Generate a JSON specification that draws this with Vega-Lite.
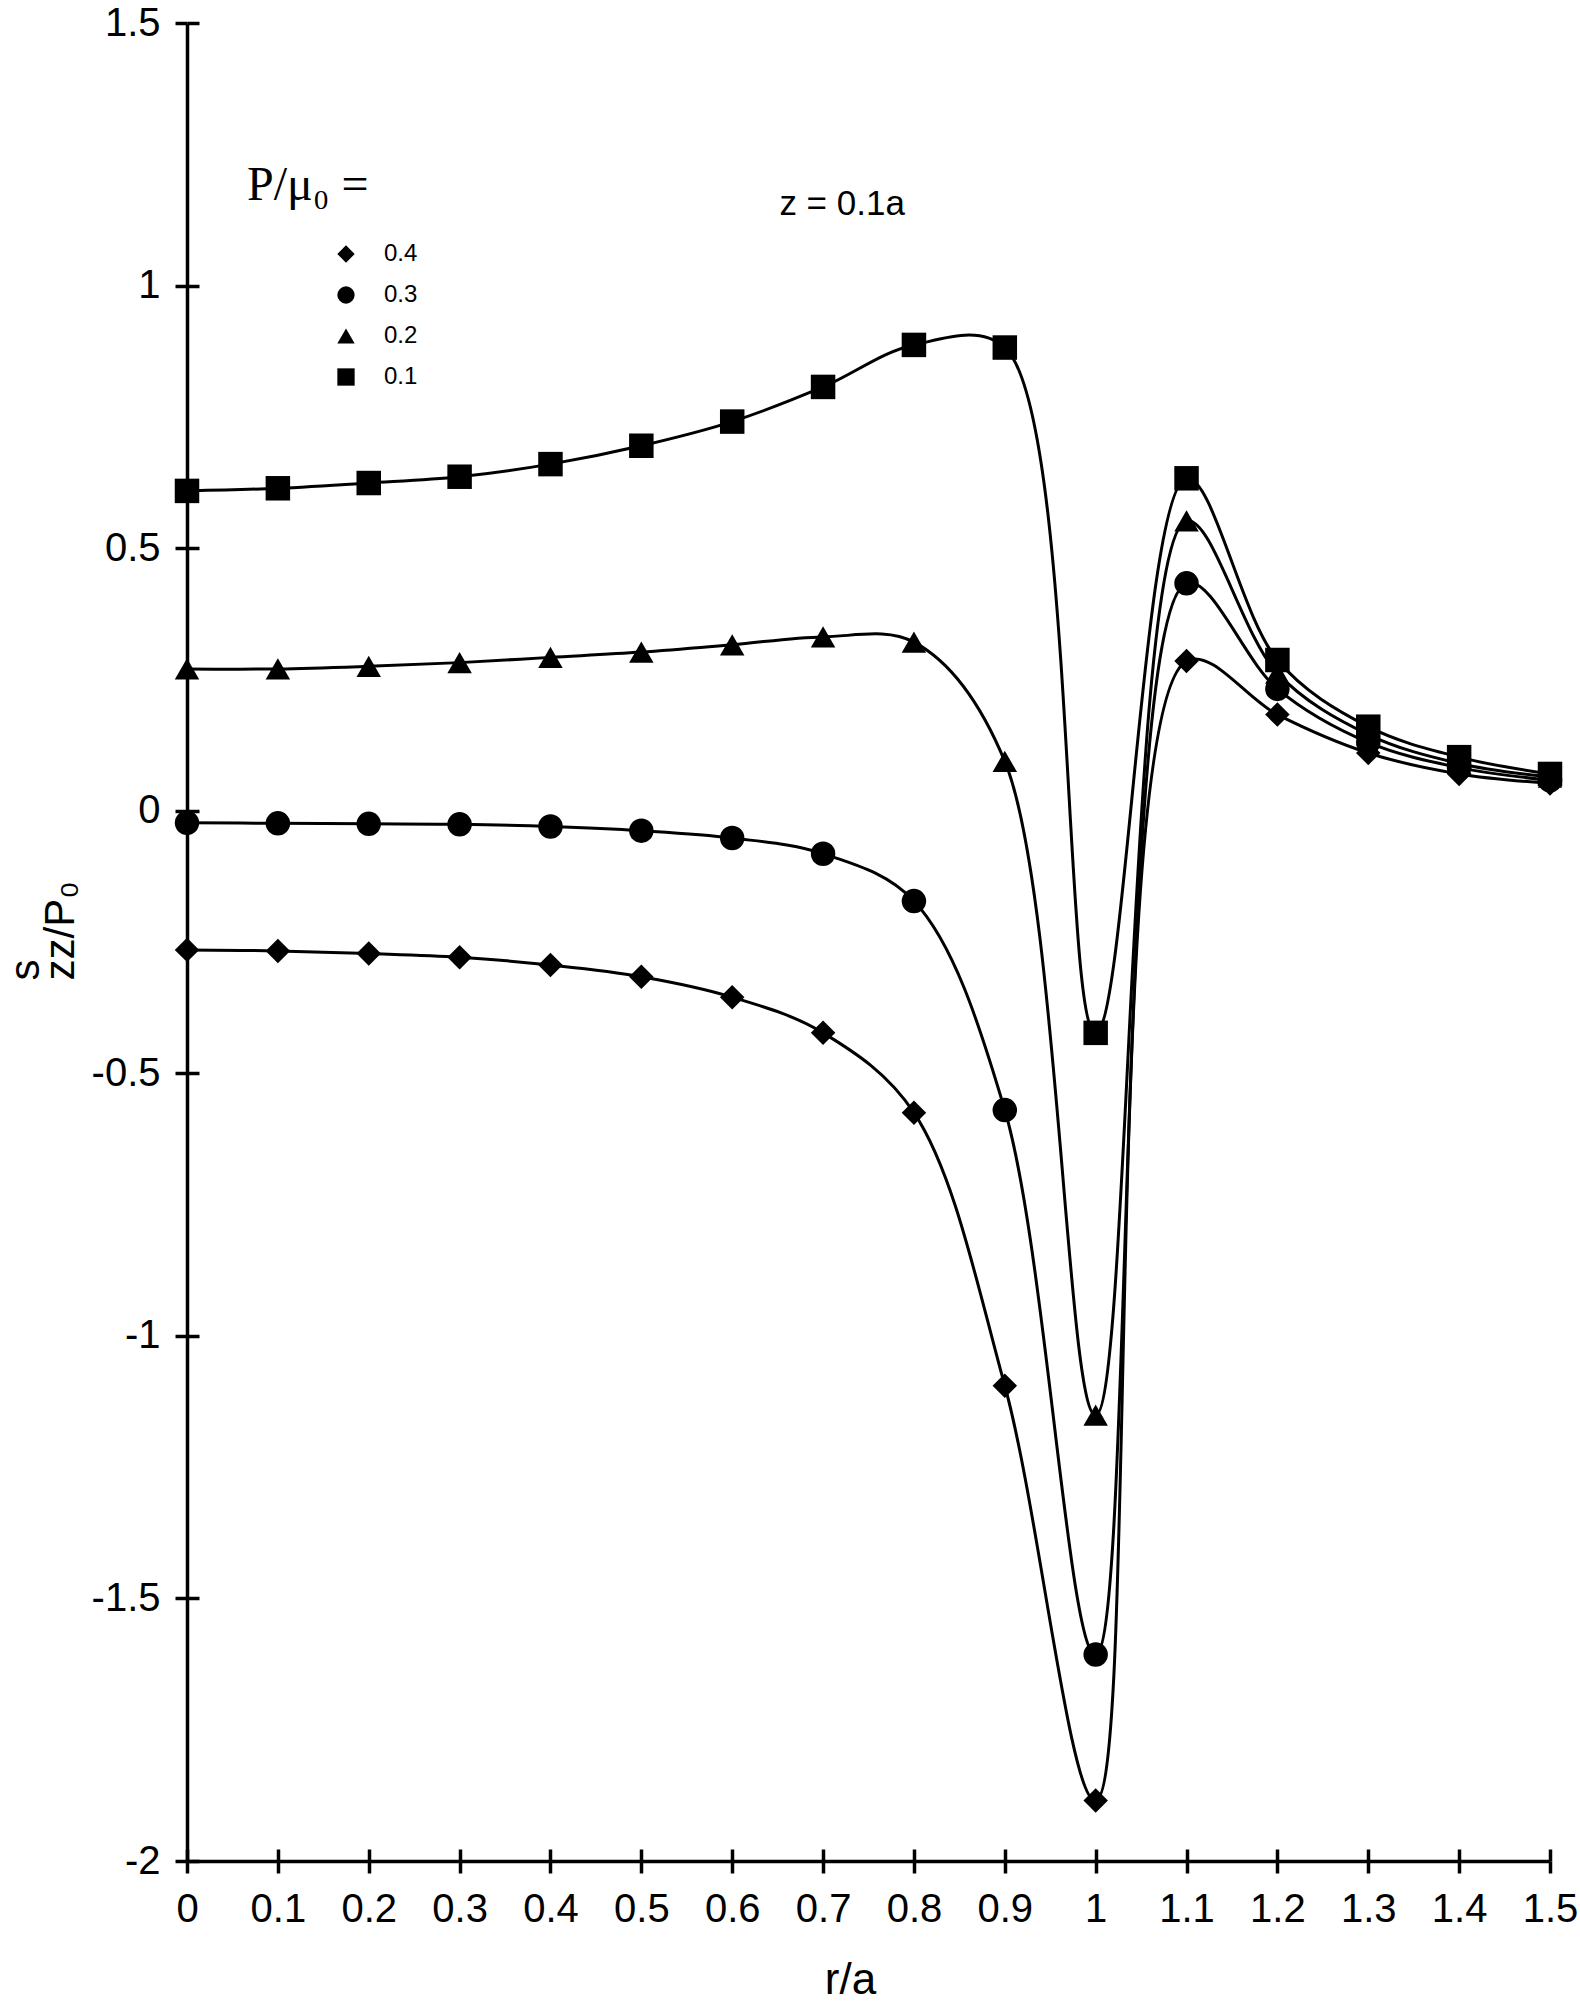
{
  "$schema": "https://vega.github.io/schema/vega-lite/v6.json",
  "width": 1363,
  "height": 1838,
  "autosize": {"type": "none"},
  "padding": {"left": 187, "top": 23, "right": 30, "bottom": 148},
  "background": "white",
  "config": {
    "view": {"stroke": null},
    "font": "Liberation Sans",
    "axis": {
      "grid": false,
      "domainColor": "black",
      "domainWidth": 3.5,
      "tickColor": "black",
      "tickWidth": 3.5,
      "labelFont": "Liberation Sans",
      "labelFontSize": 40,
      "labelColor": "black",
      "titleFont": "Liberation Sans",
      "titleFontWeight": "normal",
      "titleColor": "black"
    }
  },
  "datasets": {
    "main": [
      {"r": 0.0, "s": 0.609, "P": "0.1"}, {"r": 0.1, "s": 0.614, "P": "0.1"}, {"r": 0.2, "s": 0.624, "P": "0.1"}, {"r": 0.3, "s": 0.636, "P": "0.1"},
      {"r": 0.4, "s": 0.660, "P": "0.1"}, {"r": 0.5, "s": 0.695, "P": "0.1"}, {"r": 0.6, "s": 0.741, "P": "0.1"}, {"r": 0.7, "s": 0.807, "P": "0.1"},
      {"r": 0.8, "s": 0.887, "P": "0.1"}, {"r": 0.9, "s": 0.882, "P": "0.1"}, {"r": 1.0, "s": -0.423, "P": "0.1"}, {"r": 1.1, "s": 0.633, "P": "0.1"},
      {"r": 1.2, "s": 0.287, "P": "0.1"}, {"r": 1.3, "s": 0.160, "P": "0.1"}, {"r": 1.4, "s": 0.102, "P": "0.1"}, {"r": 1.5, "s": 0.070, "P": "0.1"},

      {"r": 0.0, "s": 0.270, "P": "0.2"}, {"r": 0.1, "s": 0.270, "P": "0.2"}, {"r": 0.2, "s": 0.275, "P": "0.2"}, {"r": 0.3, "s": 0.282, "P": "0.2"},
      {"r": 0.4, "s": 0.292, "P": "0.2"}, {"r": 0.5, "s": 0.302, "P": "0.2"}, {"r": 0.6, "s": 0.316, "P": "0.2"}, {"r": 0.7, "s": 0.331, "P": "0.2"},
      {"r": 0.8, "s": 0.321, "P": "0.2"}, {"r": 0.9, "s": 0.094, "P": "0.2"}, {"r": 1.0, "s": -1.151, "P": "0.2"}, {"r": 1.1, "s": 0.552, "P": "0.2"},
      {"r": 1.2, "s": 0.262, "P": "0.2"}, {"r": 1.3, "s": 0.145, "P": "0.2"}, {"r": 1.4, "s": 0.090, "P": "0.2"}, {"r": 1.5, "s": 0.064, "P": "0.2"},

      {"r": 0.0, "s": -0.023, "P": "0.3"}, {"r": 0.1, "s": -0.024, "P": "0.3"}, {"r": 0.2, "s": -0.025, "P": "0.3"}, {"r": 0.3, "s": -0.026, "P": "0.3"},
      {"r": 0.4, "s": -0.030, "P": "0.3"}, {"r": 0.5, "s": -0.038, "P": "0.3"}, {"r": 0.6, "s": -0.052, "P": "0.3"}, {"r": 0.7, "s": -0.082, "P": "0.3"},
      {"r": 0.8, "s": -0.172, "P": "0.3"}, {"r": 0.9, "s": -0.570, "P": "0.3"}, {"r": 1.0, "s": -1.607, "P": "0.3"}, {"r": 1.1, "s": 0.433, "P": "0.3"},
      {"r": 1.2, "s": 0.232, "P": "0.3"}, {"r": 1.3, "s": 0.130, "P": "0.3"}, {"r": 1.4, "s": 0.082, "P": "0.3"}, {"r": 1.5, "s": 0.058, "P": "0.3"},

      {"r": 0.0, "s": -0.265, "P": "0.4"}, {"r": 0.1, "s": -0.267, "P": "0.4"}, {"r": 0.2, "s": -0.272, "P": "0.4"}, {"r": 0.3, "s": -0.279, "P": "0.4"},
      {"r": 0.4, "s": -0.294, "P": "0.4"}, {"r": 0.5, "s": -0.316, "P": "0.4"}, {"r": 0.6, "s": -0.355, "P": "0.4"}, {"r": 0.7, "s": -0.423, "P": "0.4"},
      {"r": 0.8, "s": -0.575, "P": "0.4"}, {"r": 0.9, "s": -1.095, "P": "0.4"}, {"r": 1.0, "s": -1.885, "P": "0.4"}, {"r": 1.1, "s": 0.285, "P": "0.4"},
      {"r": 1.2, "s": 0.183, "P": "0.4"}, {"r": 1.3, "s": 0.110, "P": "0.4"}, {"r": 1.4, "s": 0.070, "P": "0.4"}, {"r": 1.5, "s": 0.052, "P": "0.4"}
    ],
    "notes": [
      {"x": 0.721, "y": 1.134, "label": "z = 0.1a"}
    ]
  },
  "layer": [
    {
      "data": {"name": "main"},
      "mark": {"type": "line", "interpolate": "catmull-rom", "color": "black", "strokeWidth": 3},
      "encoding": {
        "x": {
          "field": "r", "type": "quantitative",
          "scale": {"domain": [0, 1.5], "nice": false, "zero": false},
          "axis": {
            "orient": "bottom",
            "values": [0, 0.1, 0.2, 0.3, 0.4, 0.5, 0.6, 0.7, 0.8, 0.9, 1, 1.1, 1.2, 1.3, 1.4, 1.5],
            "labelExpr": "'' + datum.value",
            "tickSize": 12,
            "labelPadding": 16,
            "labelFlush": false,
            "labelOverlap": false,
            "title": "r/a",
            "titleFontSize": 44,
            "titleX": 663,
            "titleY": 132,
            "titleAlign": "center",
            "titleBaseline": "alphabetic"
          }
        },
        "y": {
          "field": "s", "type": "quantitative",
          "scale": {"domain": [-2, 1.5], "nice": false, "zero": false},
          "axis": {
            "orient": "left",
            "values": [-2, -1.5, -1, -0.5, 0, 0.5, 1, 1.5],
            "labelExpr": "'' + datum.value",
            "tickSize": 12,
            "labelPadding": 15,
            "labelFlush": false,
            "labelOverlap": false,
            "title": ["s", " zz/P₀"],
            "titleFontSize": 42,
            "titleAngle": 270,
            "titleAlign": "left",
            "titleBaseline": "alphabetic",
            "titleLineHeight": 35,
            "titleX": -149,
            "titleY": 957,
            "encode": {
              "title": {
                "update": {
                  "angle": {"value": 270},
                  "align": {"value": "left"},
                  "baseline": {"value": "alphabetic"}
                }
              }
            }
          }
        },
        "detail": {"field": "P", "type": "nominal"}
      }
    },
    {
      "data": {"name": "main"},
      "mark": {"type": "point", "filled": true, "color": "black", "opacity": 1, "size": 600},
      "encoding": {
        "x": {
          "field": "r", "type": "quantitative",
          "axis": {
            "orient": "bottom",
            "values": [0, 0.1, 0.2, 0.3, 0.4, 0.5, 0.6, 0.7, 0.8, 0.9, 1, 1.1, 1.2, 1.3, 1.4, 1.5],
            "tickSize": -12,
            "labels": false,
            "domain": false,
            "title": null
          }
        },
        "y": {
          "field": "s", "type": "quantitative",
          "axis": {
            "orient": "left",
            "values": [-2, -1.5, -1, -0.5, 0, 0.5, 1, 1.5],
            "tickSize": -12,
            "labels": false,
            "domain": false,
            "title": null
          }
        },
        "shape": {
          "field": "P", "type": "nominal",
          "scale": {"domain": ["0.4", "0.3", "0.2", "0.1"], "range": ["diamond", "circle", "triangle-up", "square"]},
          "legend": {
            "title": "P/μ₀ =",
            "orient": "none",
            "legendX": 60,
            "legendY": 139,
            "padding": 0,
            "titleFont": "Liberation Serif",
            "titleFontSize": 48,
            "titleFontWeight": "normal",
            "titleColor": "black",
            "titlePadding": 32,
            "titleLimit": 500,
            "labelFont": "Liberation Sans",
            "labelFontSize": 24,
            "labelColor": "black",
            "symbolSize": 300,
            "symbolType": "circle",
            "symbolFillColor": "black",
            "symbolStrokeColor": "black",
            "symbolOffset": 87,
            "labelOffset": 26,
            "rowPadding": 17
          }
        }
      }
    },
    {
      "data": {"name": "notes"},
      "mark": {"type": "text", "font": "Liberation Sans", "fontSize": 35, "align": "center", "baseline": "alphabetic", "color": "black"},
      "encoding": {
        "x": {"field": "x", "type": "quantitative", "axis": null},
        "y": {"field": "y", "type": "quantitative", "axis": null},
        "text": {"field": "label"}
      }
    }
  ],
  "resolve": {"axis": {"x": "independent", "y": "independent"}}
}
